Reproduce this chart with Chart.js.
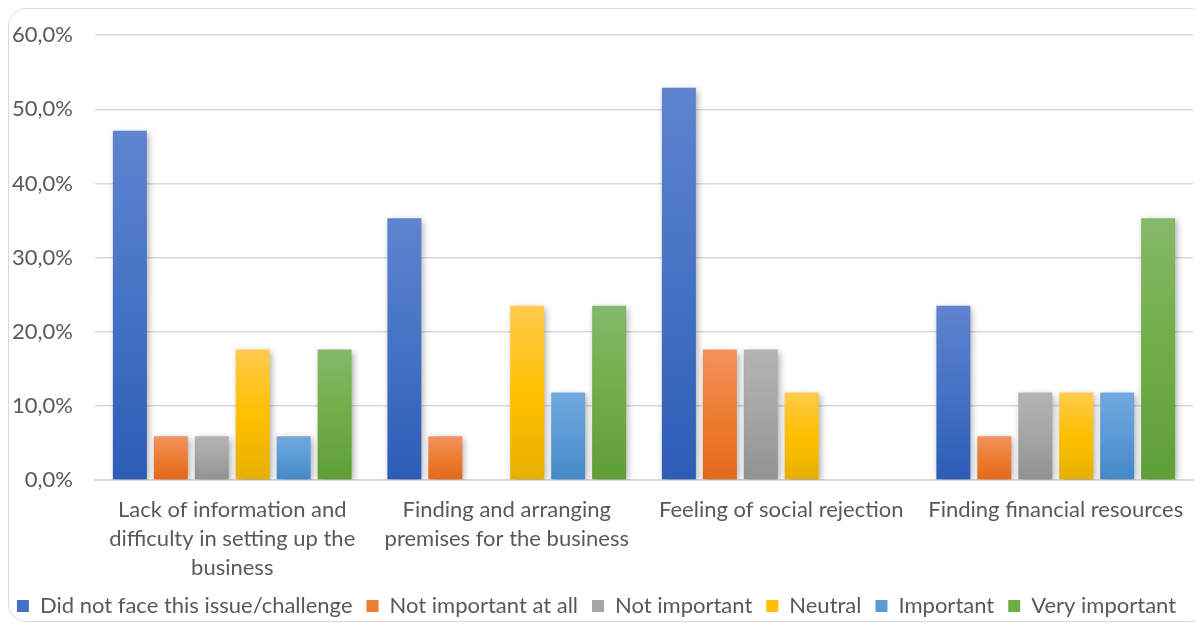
<!DOCTYPE html>
<html>
<head>
    <title>Issues and challenges</title>
    <script src="https://cdn.jsdelivr.net/npm/chart.js"></script>
    <style>
        html, body {
            margin: 0;
            padding: 0;
            background: #ffffff;
        }
        .frame {
            position: absolute;
            left: 8px;
            top: 8px;
            width: 1200px;
            height: 614px;
            border: 1.5px solid #d9d9d9;
            border-radius: 18px;
            box-sizing: border-box;
        }
        #barChart {
            position: absolute;
            left: 0;
            top: 0;
        }
    </style>
</head>
<body>
    <div class="frame"></div>
    <canvas id="barChart" width="1196" height="627"></canvas>

    <script>
        const categories = [
            ['Lack of information and', 'difficulty in setting up the', 'business'],
            ['Finding and arranging', 'premises for the business'],
            'Feeling of social rejection',
            'Finding financial resources'
        ];

        const seriesNames = [
            'Did not face this issue/challenge',
            'Not important at all',
            'Not important',
            'Neutral',
            'Important',
            'Very important'
        ];

        // percent of respondents per answer, one array per answer
        const didNotFace = [47.1, 35.3, 52.9, 23.5];
        const notImportantAtAll = [5.9, 5.9, 17.6, 5.9];
        const notImportant = [5.9, 0, 17.6, 11.8];
        const neutral = [17.6, 23.5, 11.8, 11.8];
        const important = [5.9, 11.8, 0, 11.8];
        const veryImportant = [17.6, 23.5, 0, 35.3];

        const yTicks = [0, 10, 20, 30, 40, 50, 60];

        // light top, base middle, dark bottom (Excel style gradient)
        const palette = [
            ['#5f84d0', '#4472c4', '#2c5cb6'],
            ['#f29160', '#ed7d31', '#e3691b'],
            ['#b4b4b4', '#a5a5a5', '#929292'],
            ['#ffca4d', '#ffc000', '#e6b000'],
            ['#72a9de', '#5b9bd5', '#4488c7'],
            ['#84b96a', '#70ad47', '#5f9f37']
        ];

        const allValues = [didNotFace, notImportantAtAll, notImportant, neutral, important, veryImportant];

        function barGradient(i) {
            return function(context) {
                const chart = context.chart;
                const yScale = chart.scales.y;
                if (!chart.chartArea || !yScale || context.raw === undefined) {
                    return palette[i][1];
                }
                const top = yScale.getPixelForValue(context.raw);
                const bottom = yScale.getPixelForValue(0);
                if (!isFinite(top) || bottom - top < 1) return palette[i][1];
                const g = chart.ctx.createLinearGradient(0, top, 0, bottom);
                g.addColorStop(0, palette[i][0]);
                g.addColorStop(0.5, palette[i][1]);
                g.addColorStop(1, palette[i][2]);
                return g;
            };
        }

        const datasets = seriesNames.map((name, i) => ({
            label: name,
            data: allValues[i],
            backgroundColor: barGradient(i),
            borderWidth: 0,
            categoryPercentage: 0.895,
            barPercentage: 0.83
        }));

        const barShadow = {
            id: 'barShadow',
            beforeDatasetsDraw(chart) {
                const ctx = chart.ctx;
                ctx.save();
                ctx.shadowColor = 'rgba(0, 0, 0, 0.35)';
                ctx.shadowBlur = 7;
                ctx.shadowOffsetX = 2;
                ctx.shadowOffsetY = 2;
            },
            afterDatasetsDraw(chart) {
                chart.ctx.restore();
            }
        };

        const textColor = '#595959';
        const fontFamily = 'Lato, "Open Sans", sans-serif';

        new Chart(document.getElementById('barChart').getContext('2d'), {
            type: 'bar',
            data: {
                labels: categories,
                datasets: datasets
            },
            plugins: [barShadow],
            options: {
                responsive: false,
                maintainAspectRatio: false,
                animation: false,
                layout: {
                    padding: { left: 0, right: 3, top: 9, bottom: 0 }
                },
                plugins: {
                    legend: {
                        position: 'bottom',
                        labels: {
                            color: textColor,
                            font: { family: fontFamily, size: 22 },
                            boxWidth: 12,
                            boxHeight: 12,
                            padding: 14,
                            useBorderRadius: false,
                            generateLabels: function(chart) {
                                return chart.data.datasets.map((ds, i) => ({
                                    text: ds.label,
                                    fillStyle: palette[i][1],
                                    strokeStyle: palette[i][1],
                                    lineWidth: 0,
                                    fontColor: textColor,
                                    datasetIndex: i
                                }));
                            }
                        }
                    },
                    tooltip: { enabled: false }
                },
                scales: {
                    x: {
                        grid: { display: false },
                        border: { color: '#d9d9d9', width: 2 },
                        afterFit: function(scale) {
                            scale.height = 101;
                        },
                        ticks: {
                            color: textColor,
                            font: { family: fontFamily, size: 22, lineHeight: 1.32 },
                            maxRotation: 0,
                            padding: 7
                        }
                    },
                    y: {
                        min: 0,
                        max: 60,
                        afterBuildTicks: function(scale) {
                            scale.ticks = yTicks.map(v => ({ value: v }));
                        },
                        afterFit: function(scale) {
                            scale.width = 95;
                        },
                        grid: { color: '#d9d9d9', lineWidth: 1.5, drawTicks: false },
                        border: { display: false },
                        ticks: {
                            color: textColor,
                            font: { family: fontFamily, size: 22 },
                            padding: 22,
                            callback: function(value) {
                                return value.toFixed(1).replace('.', ',') + '%';
                            }
                        }
                    }
                }
            }
        });
    </script>
</body>
</html>
